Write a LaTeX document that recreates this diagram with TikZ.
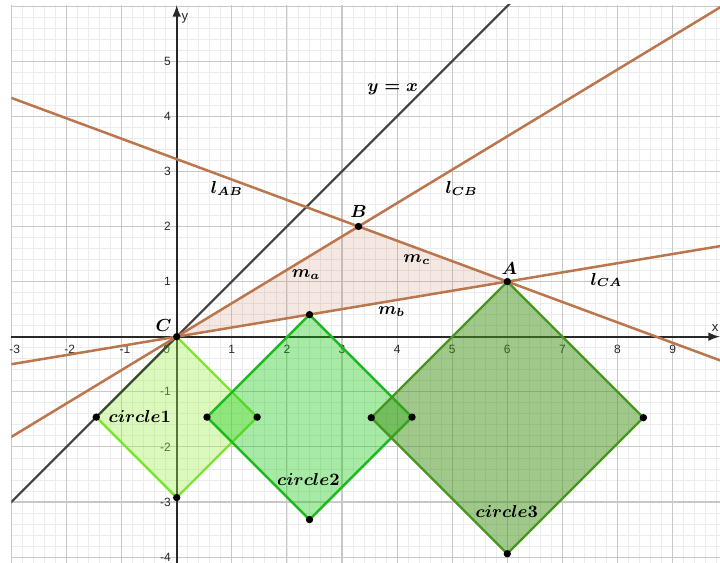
\documentclass[tikz,border=0pt]{standalone}
\usepackage{fontspec}
\setsansfont{Liberation Sans}
\usetikzlibrary{calc,arrows.meta}
\definecolor{linebrown}{RGB}{188,118,78}
\definecolor{axisgray}{RGB}{40,40,40}
\definecolor{yxgray}{RGB}{64,64,64}
\definecolor{majgrid}{RGB}{200,200,200}
\definecolor{mingrid}{RGB}{236,236,236}
\definecolor{c1fill}{RGB}{160,240,80}
\definecolor{c1line}{RGB}{125,228,50}
\definecolor{c2fill}{RGB}{20,200,20}
\definecolor{c2line}{RGB}{30,185,30}
\definecolor{c3fill}{RGB}{70,150,30}
\definecolor{c3line}{RGB}{72,150,32}
\definecolor{trifillc}{RGB}{200,130,100}
\tikzset{
  minorgrid/.style={draw=mingrid,line width=0.4pt},
  majorgrid/.style={draw=majgrid,line width=0.55pt},
  axisline/.style={draw=axisgray,line width=1pt,-{Latex[length=6pt,width=4.5pt]}},
  brownline/.style={draw=linebrown,line width=1.3pt},
  yxline/.style={draw=yxgray,line width=1.1pt},
  circA/.style={fill=c1fill,fill opacity=0.38,draw=c1line,draw opacity=1,line width=1.2pt,line join=round},
  circB/.style={fill=c2fill,fill opacity=0.38,draw=c2line,draw opacity=1,line width=1.2pt,line join=round},
  circC/.style={fill=c3fill,fill opacity=0.52,draw=c3line,draw opacity=1,line width=1.2pt,line join=round},
  trifill/.style={fill=trifillc,fill opacity=0.18},
  pt/.style={circle,fill=black,inner sep=0pt,minimum size=3.8pt},
  lbl/.style={font=\fontsize{8.8}{10}\selectfont\boldmath,inner sep=0pt},
  tick/.style={font=\sffamily\fontsize{6.2}{7}\selectfont,text=axisgray,inner sep=0pt},
  axlbl/.style={font=\sffamily\fontsize{6.8}{7}\selectfont,text=axisgray,inner sep=0pt}
}
\begin{document}
\begin{tikzpicture}[x=1cm,y=1cm]
\useasboundingbox (-3.207,-4.107) rectangle (9.86,6.11);
% grid
\begin{scope}
\clip (-3.01,-4.107) rectangle (9.86,6.02);
\draw[minorgrid] (-3,-4.4) grid[step=0.2] (10,6.02);
\draw[majorgrid] (-3,-5) grid[step=1] (10,6.02);
\end{scope}
% axes
\coordinate (xs) at (-3,0);
\coordinate (xe) at (9.86,0);
\coordinate (ys) at (0,-4.107);
\coordinate (ye) at (0,6.02);
\draw[axisline] (xs) -- (xe);
\draw[axisline] (ys) -- (ye);
\node[axlbl] (xlab) at (9.77,0.16) {x};
\node[axlbl] (ylab) at (0.15,5.78) {y};
% tick labels
\foreach \i in {-3,-2,-1} {\node[tick] (tx\i) at (\i+0.06,-0.23) {\i};}
\node[tick] (tx0) at (-0.18,-0.23) {0};
\foreach \i in {1,...,9} {\node[tick] (tx\i) at (\i,-0.23) {\i};}
\foreach \i in {1,...,5} {\node[tick,anchor=east] (ty\i) at (-0.1,\i) {\i};}
\foreach \i in {-1,-2,-3,-4} {\node[tick,anchor=east] (ty\i) at (-0.1,\i) {\i};}
% points
\coordinate (A) at (6,1);
\coordinate (B) at (3.3,2);
\coordinate (C) at (0,0);
\coordinate (U) at (1,1);
\coordinate (c1R) at (1.46,-1.46);
\coordinate (c1D) at (0,-2.92);
\coordinate (c1L) at (-1.46,-1.46);
\coordinate (c2T) at (2.41,0.40);
\coordinate (c2R) at (4.27,-1.46);
\coordinate (c2D) at (2.41,-3.32);
\coordinate (c2L) at (0.55,-1.46);
\coordinate (c3R) at (8.47,-1.47);
\coordinate (c3D) at (6,-3.94);
\coordinate (c3L) at (3.53,-1.47);
% triangle
\fill[trifill] (A) -- (B) -- (C) -- cycle;
% taxicab circles
\draw[circA] (C) -- (c1R) -- (c1D) -- (c1L) -- cycle;
\draw[circB] (c2T) -- (c2R) -- (c2D) -- (c2L) -- cycle;
\draw[circC] (A) -- (c3R) -- (c3D) -- (c3L) -- cycle;
% lines
\begin{scope}
\clip (-3,-4.107) rectangle (9.86,6.02);
\draw[yxline] ($(C)!-20!(U)$) -- ($(U)!-20!(C)$);
\draw[brownline] ($(A)!-8!(B)$) -- ($(B)!-8!(A)$);
\draw[brownline] ($(C)!-8!(B)$) -- ($(B)!-8!(C)$);
\draw[brownline] ($(C)!-8!(A)$) -- ($(A)!-8!(C)$);
\end{scope}
% point marks
\foreach \p in {A,B,C,c1R,c1D,c1L,c2T,c2R,c2D,c2L,c3R,c3D,c3L} {\node[pt] (m\p) at (\p) {};}
% labels
\node[lbl] (lyx) at (3.92,4.49) {$y = x$};
\node[lbl] (lAB) at (0.91,2.69) {$l_{AB}$};
\node[lbl] (lCB) at (5.17,2.69) {$l_{CB}$};
\node[lbl] (lCA) at (7.80,1.03) {$l_{CA}$};
\node[lbl] (lma) at (2.35,1.12) {$m_a$};
\node[lbl] (lmb) at (3.90,0.45) {$m_b$};
\node[lbl] (lmc) at (4.36,1.39) {$m_c$};
\node[lbl] (lB) at (3.30,2.27) {$B$};
\node[lbl] (lA) at (6.04,1.24) {$A$};
\node[lbl] (lC) at (-0.24,0.21) {$C$};
\node[lbl] (lc1) at (-0.67,-1.45) {$circle1$};
\node[lbl] (lc2) at (2.39,-2.59) {$circle2$};
\node[lbl] (lc3) at (5.99,-3.18) {$circle3$};
\end{tikzpicture}
\end{document}
